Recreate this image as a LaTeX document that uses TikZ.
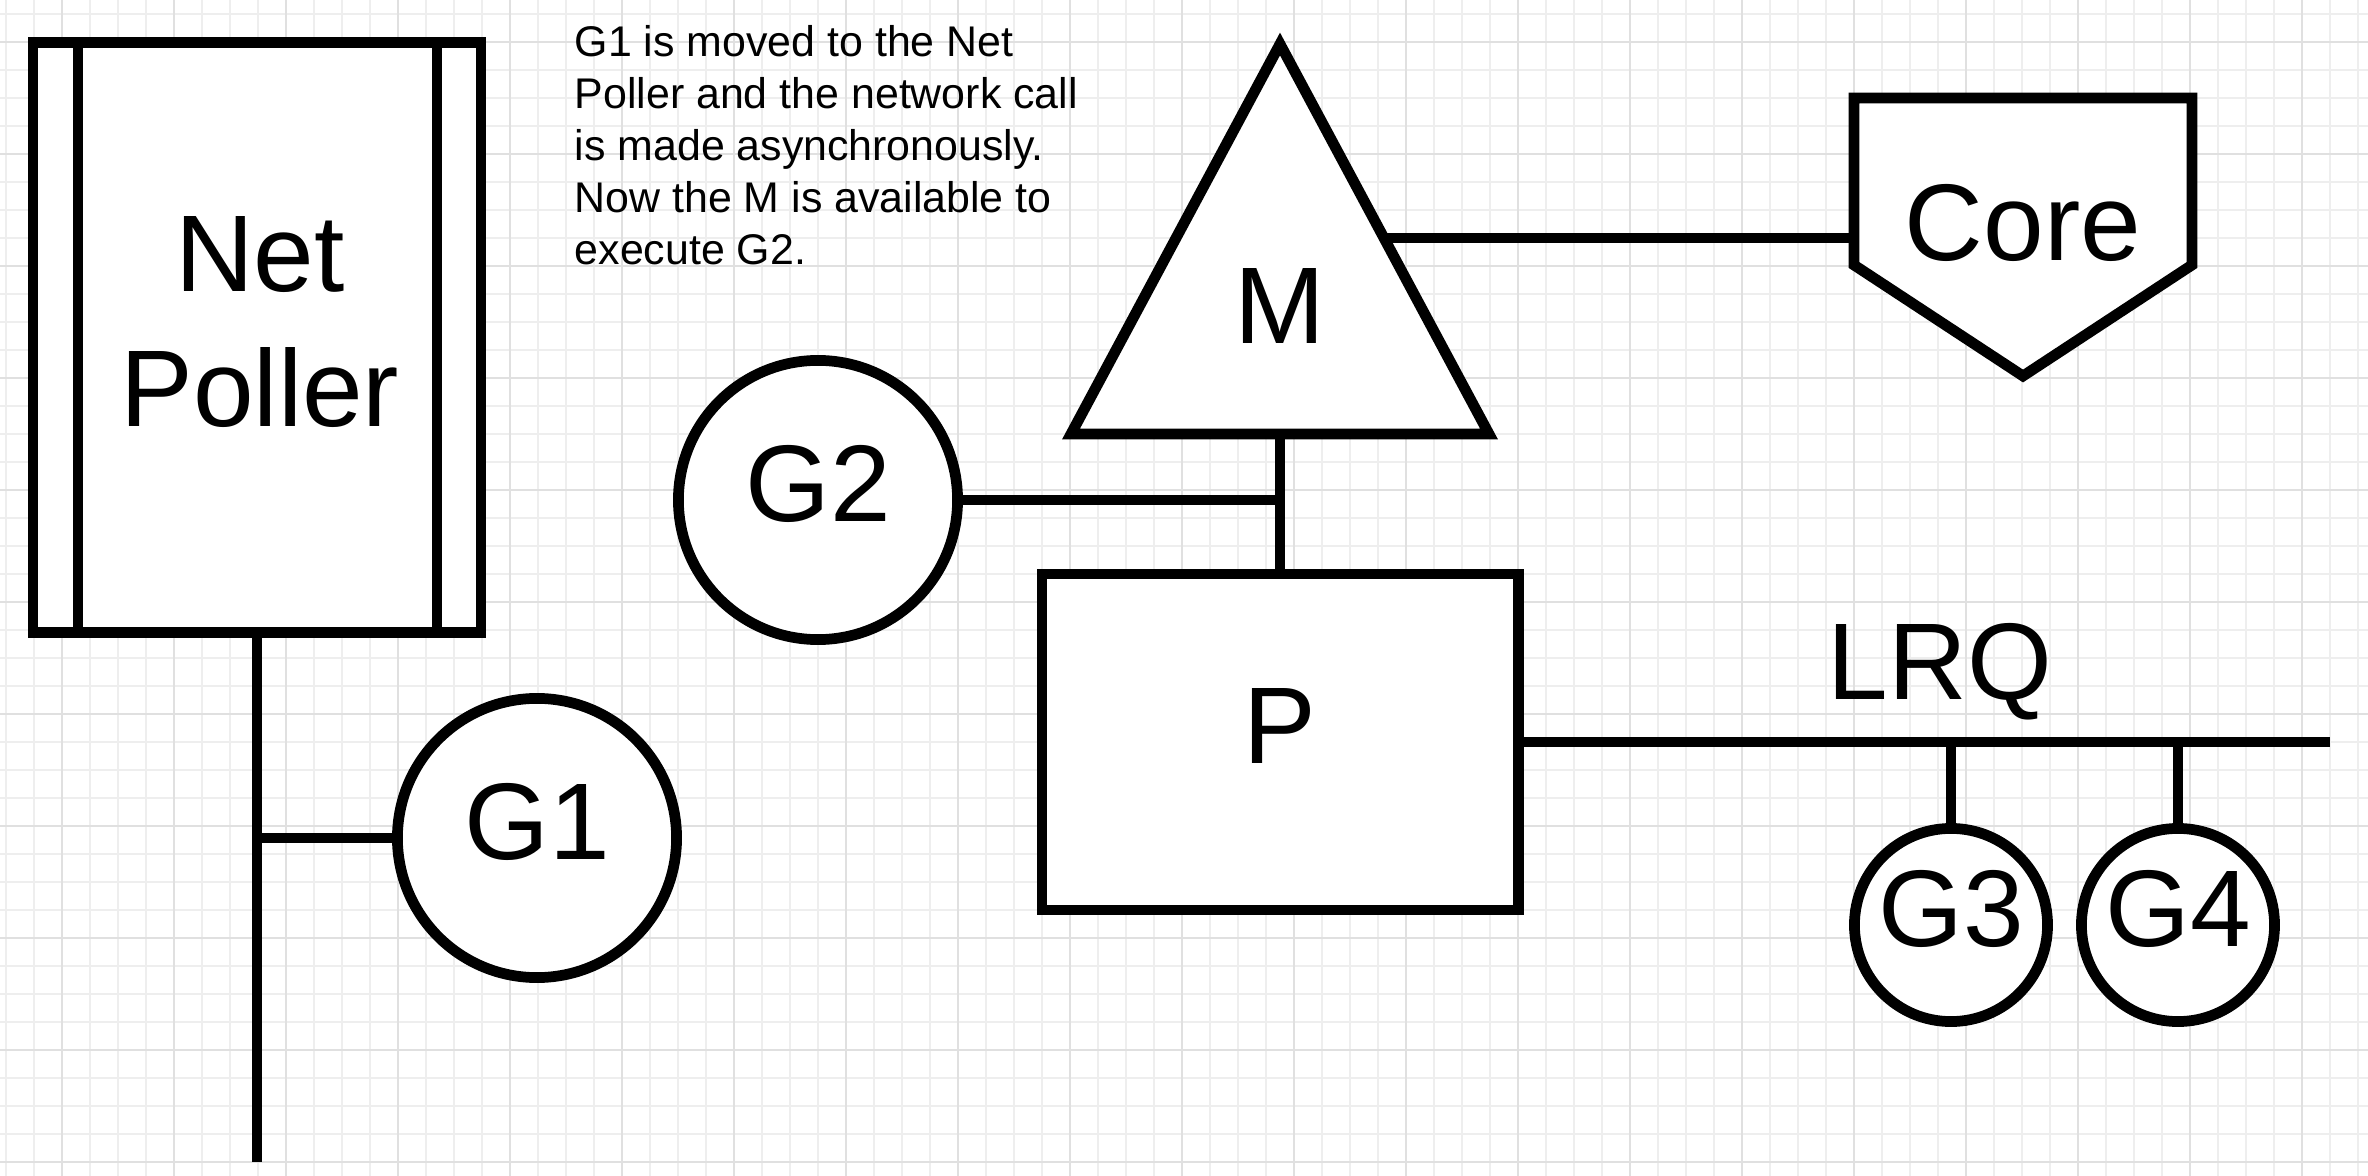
\documentclass[tikz,border=0pt]{standalone}
\usepackage{fontspec}
\setmainfont{Liberation Sans}
\usetikzlibrary{calc}
\definecolor{gridminor}{RGB}{238,238,238}
\definecolor{gridmajor}{RGB}{224,224,224}
\newcommand\diagbig{\fontsize{31pt}{38.4pt}\selectfont}
\newcommand\diagsmall{\fontsize{12.2pt}{14.72pt}\selectfont}
\tikzset{
  shapeline/.style={draw=black, line width=3.05pt, fill=white, outer sep=0pt, inner sep=0pt},
  conn/.style={draw=black, line width=3.05pt},
  gnode/.style={shapeline, circle, text depth=0.33cm, font=\diagbig},
  biglabel/.style={inner sep=0pt, font=\diagbig},
}
\begin{document}
\begin{tikzpicture}[x=0.01cm, y=-0.01cm]
\fill[white] (0,0) rectangle (2368,1176);
\useasboundingbox (0,0) rectangle (2368,1176);
% grid
\foreach \k in {0,...,84} \draw[gridminor, line width=0.3pt] ({6+28*\k},0) -- ({6+28*\k},1176);
\foreach \k in {0,...,41} \draw[gridminor, line width=0.3pt] (0,{14+28*\k}) -- (2368,{14+28*\k});
\foreach \k in {0,...,20} \draw[gridmajor, line width=0.4pt] ({62+112*\k},0) -- ({62+112*\k},1176);
\foreach \k in {0,...,10} \draw[gridmajor, line width=0.4pt] (0,{42+112*\k}) -- (2368,{42+112*\k});

% Net Poller
\node[shapeline, rectangle, minimum width=4.48cm, minimum height=5.89cm] (np) at (257,337.5) {};
\draw[conn] ($(np.north west)+(45,0)$) -- ($(np.south west)+(45,0)$);
\draw[conn] ($(np.north east)+(-44,0)$) -- ($(np.south east)+(-44,0)$);
\node[biglabel, align=center] (nptext) at (260,322) {Net\\Poller};
\coordinate (npend) at (257,1162);
\coordinate (g1j) at (257,838);

% Note text
\node[anchor=north west, inner sep=0pt, align=left, font=\diagsmall] (note) at (574,25.2)
  {G1 is moved to the Net\\Poller and the network call\\is made asynchronously.\\Now the M is available to\\execute G2.};

% M triangle
\coordinate (Mtop) at (1280,44);
\coordinate (Mleft) at (1071,434);
\coordinate (Mright) at (1489,434);
\coordinate (Mbase) at (1280,434);
\coordinate (Mside) at (1384,238);
\draw[shapeline] (Mtop) -- (Mright) -- (Mleft) -- cycle;
\node[biglabel] (M) at (1280,306) {M};

% Core
\coordinate (coreTL) at (1854,98);
\coordinate (coreTR) at (2192,98);
\coordinate (coreR) at (2192,265);
\coordinate (coreB) at (2023,376);
\coordinate (coreL) at (1854,265);
\coordinate (coreIn) at (1854,238);
\draw[shapeline] (coreTL) -- (coreTR) -- (coreR) -- (coreB) -- (coreL) -- cycle;
\node[biglabel] (core) at (2023,223) {Core};

% G nodes
\node[gnode, minimum size=2.79cm] (G1) at (537,838) {G1};
\node[gnode, minimum size=2.79cm] (G2) at (818,500) {G2};
\node[gnode, minimum size=1.93cm] (G3) at (1951,925) {G3};
\node[gnode, minimum size=1.93cm] (G4) at (2178,925) {G4};

% P
\node[shapeline, rectangle, minimum width=4.76cm, minimum height=3.36cm, text depth=0.32cm, font=\diagbig] (P) at (1280,742) {P};
\coordinate (g2j) at (1280,500);
\coordinate (lrqend) at (2330,742);
\coordinate (g3j) at (1951,742);
\coordinate (g4j) at (2178,742);
\node[biglabel, anchor=base] (lrq) at (1940,699) {LRQ};

% connectors
\draw[conn] (np.south) -- (npend);
\draw[conn] (g1j) -- (G1.west);
\draw[conn] (Mside) -- (coreIn);
\draw[conn] (Mbase) -- (P.north);
\draw[conn] (G2.east) -- (g2j);
\draw[conn] (P.east) -- (lrqend);
\draw[conn] (g3j) -- (G3.north);
\draw[conn] (g4j) -- (G4.north);
\end{tikzpicture}
\end{document}
